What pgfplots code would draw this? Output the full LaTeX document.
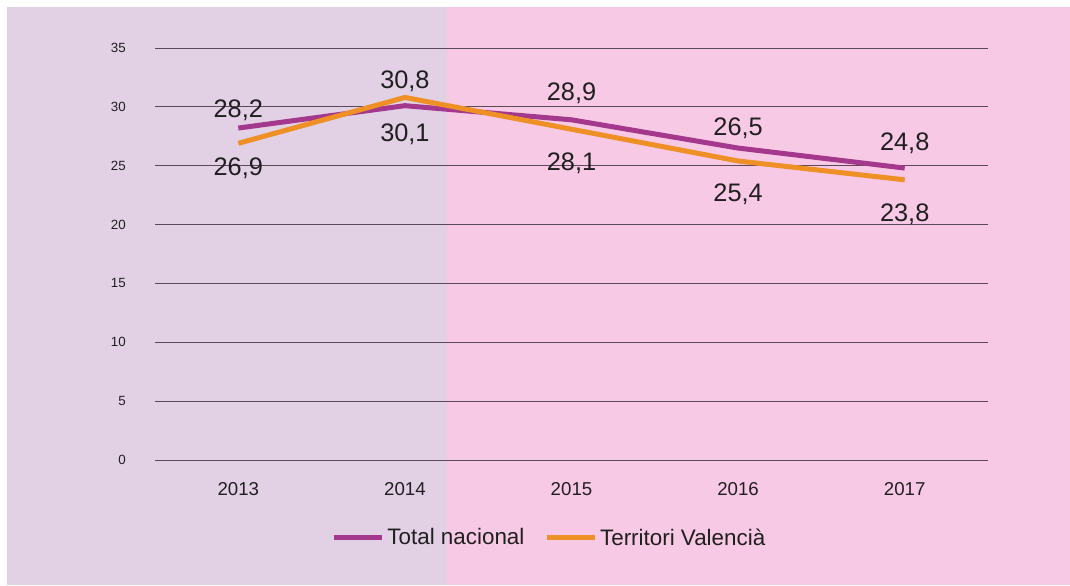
\documentclass[border=0pt]{standalone}
\usepackage{pgfplots}
\pgfplotsset{compat=1.18}
\usepackage{pgfplotstable}
\usepackage{fontspec}
\setmainfont{Liberation Sans}
\definecolor{bgA}{HTML}{E2D1E4}
\definecolor{bgB}{HTML}{F8C9E4}
\definecolor{tnc}{HTML}{A3388D}
\definecolor{tvc}{HTML}{EF9026}
\definecolor{gridc}{HTML}{5A4A58}

\pgfplotstableread{
x y lab off
0 28.2 28,2 18
1 30.1 30,1 -29
2 28.9 28,9 27
3 26.5 26,5 20
4 24.8 24,8 25
}\tntable
\pgfplotstableread{
x y lab off
0 26.9 26,9 -25
1 30.8 30,8 16
2 28.1 28,1 -34
3 25.4 25,4 -33
4 23.8 23,8 -34
}\tvtable

\begin{document}
\begin{tikzpicture}
\fill[white] (0pt,0pt) rectangle (802.5pt,438.75pt);
\fill[bgA] (5.25pt,0pt) rectangle (335.25pt,433.5pt);
\fill[bgB] (335.25pt,0pt) rectangle (802.5pt,433.5pt);
\begin{axis}[
  at={(116.25pt,93.75pt)}, anchor=south west,
  scale only axis, width=624.75pt, height=309pt,
  xmin=-0.5, xmax=4.5, ymin=0, ymax=35,
  xtick={0,1,2,3,4},
  xticklabels={2013,2014,2015,2016,2017},
  ytick={0,5,...,35},
  axis line style={draw=none},
  major tick length=0pt,
  ymajorgrids,
  major grid style={gridc, line width=0.6pt},
  xticklabel style={font=\fontsize{14}{16}\selectfont, text=black!88, yshift=-13pt},
  yticklabel style={font=\fontsize{10}{12}\selectfont, text=black!88, xshift=-18.4pt},
  /pgf/number format/assume math mode=true,
  clip=false,
  legend columns=2,
  legend style={at={(0.474,-0.189)}, anchor=center, draw=none, fill=none,
    font=\fontsize{16.8}{20}\selectfont, text=black!88,
    /tikz/every even column/.append style={column sep=13pt}},
  legend image code/.code={\draw[line width=3.75pt] (0pt,0pt) -- (36pt,0pt);},
  nodes near coords,
  point meta=explicit symbolic,
  visualization depends on={\thisrow{off}\as\off},
  every node near coord/.append style={anchor=center, yshift={\off*0.75pt},
    font=\fontsize{19}{22}\selectfont, text=black!88},
]
\addplot[tnc, line width=3.75pt, line join=round] table[x=x, y=y, meta=lab] {\tntable};
\addlegendentry{Total nacional}
\addplot[tvc, line width=3.75pt, line join=round] table[x=x, y=y, meta=lab] {\tvtable};
\addlegendentry{Territori Valenci\`a}
\end{axis}
\end{tikzpicture}
\end{document}
